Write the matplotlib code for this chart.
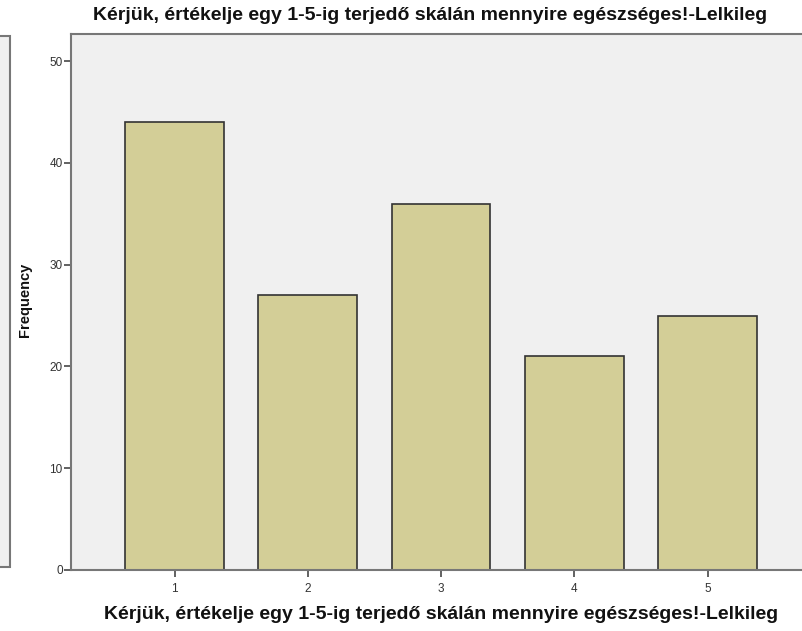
import matplotlib
matplotlib.use("Agg")
import matplotlib.pyplot as plt
from matplotlib.patches import Rectangle

# data
categories = ["1", "2", "3", "4", "5"]
frequencies = [44, 27, 36, 21, 25]
y_ticks = [0, 10, 20, 30, 40, 50]

TITLE = "Kérjük, értékelje egy 1-5-ig terjedő skálán mennyire egészséges!-Lelkileg"
BAR_COLOR = "#d3ce97"
BG_COLOR = "#f0f0f0"
EDGE = "#333333"

plt.rcParams["font.family"] = ["Liberation Sans", "DejaVu Sans"]

W, H = 803, 631
fig = plt.figure(figsize=(W / 100, H / 100), dpi=100, facecolor="white")

# axes placed in pixel terms: left 71, bottom 570, top 34, runs off the right edge
ax = fig.add_axes([71 / W, 1 - 570 / H, 740 / W, (570 - 34) / H])
ax.set_facecolor(BG_COLOR)

x = list(range(1, len(categories) + 1))
ax.bar(x, frequencies, width=0.74, color=BAR_COLOR, edgecolor=EDGE, linewidth=1.2, zorder=2)

ax.set_xlim(0.223, 0.223 + 740 / 133.25)
ax.set_ylim(0, 536 / 10.18)
ax.set_xticks(x)
ax.set_xticklabels(categories)
ax.set_yticks(y_ticks)

for side in ["left", "bottom", "top"]:
    ax.spines[side].set_color("#777777")
    ax.spines[side].set_linewidth(1.5)
ax.spines["right"].set_visible(False)
ax.tick_params(axis="both", colors="#555555", labelcolor="#333333", labelsize=8.5,
               length=5, width=1.3)
ax.tick_params(axis="x", pad=4)
ax.tick_params(axis="y", pad=1)

ax.set_xlabel(TITLE, fontsize=14, fontweight="bold", color="#111111", labelpad=8)

# clipped panel frame at the far left
fig.patches.append(Rectangle((-0.02, 1 - 567 / H), 10 / W + 0.02, (567 - 36) / H,
                             transform=fig.transFigure, facecolor=BG_COLOR,
                             edgecolor="#777777", linewidth=1.5, zorder=0))

fig.text(25 / W, 1 - 300 / H, "Frequency", fontsize=10.5, fontweight="bold",
         color="#111111", rotation=90, ha="center", va="center")

fig.text(93 / W, 1 - 16 / H, TITLE, fontsize=14, fontweight="bold",
         color="#111111", ha="left", va="center")

fig.savefig("out.png", dpi=100, facecolor="white")
